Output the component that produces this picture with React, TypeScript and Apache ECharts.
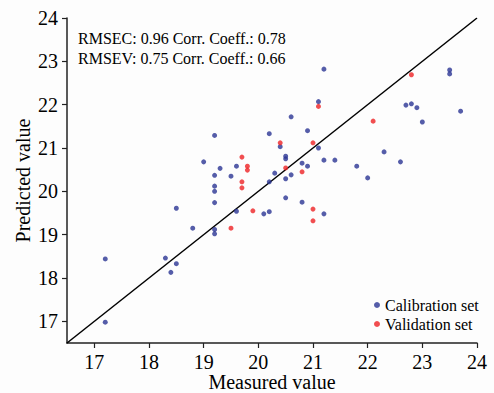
import React, { useEffect, useRef } from "react";
import * as echarts from "echarts";

const calibration: [number, number][] = [
  [17.2, 18.44], [17.2, 16.98], [18.5, 19.61], [18.8, 19.15], [18.3, 18.46],
  [18.5, 18.33], [18.4, 18.13], [19.0, 20.68], [19.3, 20.53], [19.6, 20.58],
  [19.2, 20.37], [19.5, 20.35], [19.2, 20.12], [19.2, 20.0], [19.2, 19.74],
  [20.3, 20.42], [20.2, 20.22], [20.5, 20.29], [20.6, 20.38], [20.8, 20.65],
  [20.9, 20.58], [19.6, 19.54], [20.1, 19.48], [20.2, 19.53], [20.5, 19.85],
  [20.8, 19.75], [19.2, 19.12], [19.2, 19.02], [21.2, 20.72], [21.4, 20.72],
  [21.8, 20.58], [22.6, 20.68], [22.0, 20.31], [21.2, 19.48], [21.2, 22.82],
  [21.1, 22.07], [23.5, 22.8], [23.5, 22.71], [22.7, 21.99], [22.8, 22.02],
  [22.9, 21.93], [23.7, 21.85], [23.0, 21.6], [20.9, 21.4], [21.1, 21.0],
  [22.3, 20.91], [20.6, 21.72], [19.2, 21.29], [20.2, 21.33], [20.4, 21.03],
  [20.5, 20.81], [20.5, 20.75],
];

const validation: [number, number][] = [
  [19.8, 20.58], [19.8, 20.49], [19.7, 20.22], [19.7, 20.08], [20.5, 20.54],
  [20.8, 20.45], [19.9, 19.55], [19.5, 19.15], [21.0, 19.59], [21.0, 19.32],
  [21.1, 21.96], [22.8, 22.69], [22.1, 21.62], [21.0, 21.12], [20.4, 21.12],
  [19.7, 20.79],
];

const diagonal: [number, number][] = [[16.5, 16.5], [24, 24]];
const tickValues = [17, 18, 19, 20, 21, 22, 23, 24];
const annotations = [
  "RMSEC: 0.96 Corr. Coeff.: 0.78",
  "RMSEV: 0.75 Corr. Coeff.: 0.66",
];

const FONT = "Liberation Serif";

export default function App() {
  const ref = useRef<HTMLDivElement>(null);
  useEffect(() => {
    if (!ref.current) return;
    const chart = echarts.init(ref.current, null, { renderer: "svg" });
    const axisCommon = {
      type: "value" as const,
      min: 16.5,
      max: 24,
      splitLine: { show: false },
      axisLine: { show: true, lineStyle: { color: "#222", width: 1.5 } },
      axisTick: {
        show: true,
        length: 5,
        lineStyle: { color: "#222", width: 1.2 },
        customValues: tickValues,
      },
      axisLabel: {
        color: "#000",
        fontFamily: FONT,
        fontSize: 20,
        margin: 9,
        customValues: tickValues,
      },
      nameLocation: "middle" as const,
      nameMoveOverlap: false,
      nameTextStyle: { color: "#000", fontFamily: FONT, fontSize: 20 },
    };
    chart.setOption({
      animation: false,
      backgroundColor: "#fdfdfd",
      grid: {
        left: 67,
        top: 18,
        right: 17,
        bottom: 50,
        containLabel: false,
        outerBoundsMode: "none",
      },
      xAxis: { ...axisCommon, name: "Measured value", nameGap: 29 },
      yAxis: { ...axisCommon, name: "Predicted value", nameGap: 34 },
      legend: {
        data: ["Calibration set", "Validation set"],
        orient: "vertical",
        left: 369,
        top: 292,
        icon: "circle",
        itemWidth: 6,
        itemHeight: 6,
        itemGap: 3,
        textStyle: { color: "#000", fontFamily: FONT, fontSize: 16 },
      },
      graphic: annotations.map((t, i) => ({
        type: "text",
        left: 78,
        top: 30 + i * 20,
        style: { text: t, fill: "#000", font: `16px "${FONT}"` },
      })),
      series: [
        {
          type: "line",
          data: diagonal,
          symbol: "none",
          lineStyle: { color: "#000", width: 1.5 },
          silent: true,
          z: 1,
        },
        {
          name: "Calibration set",
          type: "scatter",
          data: calibration,
          symbolSize: 5,
          itemStyle: { color: "#2a3493" },
          z: 3,
        },
        {
          name: "Validation set",
          type: "scatter",
          data: validation,
          symbolSize: 5,
          itemStyle: { color: "#ee2224" },
          z: 4,
        },
      ],
    });
    return () => chart.dispose();
  }, []);
  return <div ref={ref} style={{ width: 494, height: 393, position: "absolute", left: 0, top: 0 }} />;
}
